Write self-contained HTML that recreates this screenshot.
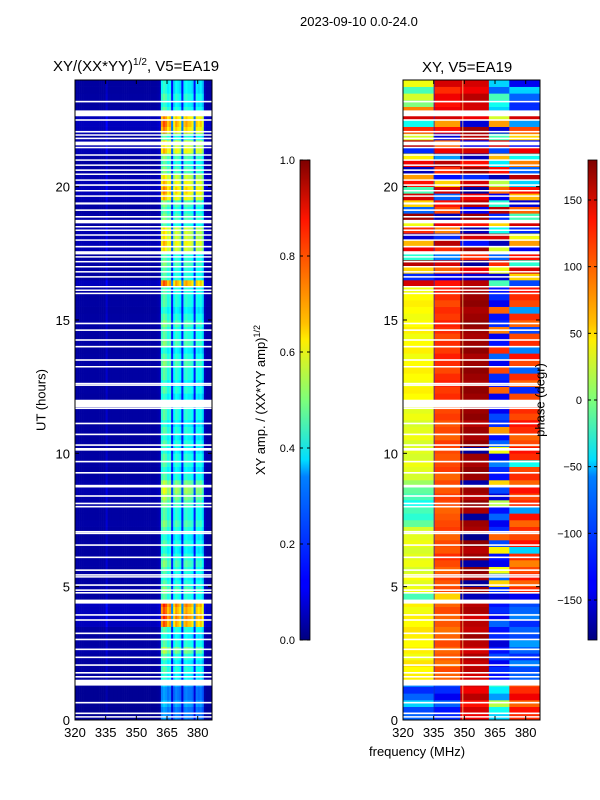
<!DOCTYPE html>
<html><head><meta charset="utf-8"><style>
body{margin:0;background:#fff;font-family:"Liberation Sans",sans-serif}
#root{position:relative;width:600px;height:800px;overflow:hidden}
.t{position:absolute;white-space:nowrap;color:#000}
</style></head><body>
<div id="root">
<svg id="svg" width="600" height="800" style="position:absolute;left:0;top:0">
<defs>
<linearGradient id="jet" x1="0" y1="1" x2="0" y2="0">
<stop offset="0" stop-color="#00007f"/><stop offset="0.11" stop-color="#0000ff"/><stop offset="0.125" stop-color="#0000ff"/>
<stop offset="0.34" stop-color="#0080ff"/><stop offset="0.375" stop-color="#00ddff"/><stop offset="0.5" stop-color="#7dff7a"/>
<stop offset="0.625" stop-color="#ffee00"/><stop offset="0.66" stop-color="#ffc000"/><stop offset="0.875" stop-color="#ff1500"/><stop offset="1" stop-color="#7f0000"/>
</linearGradient>
</defs>
<g id="leftCells"></g>
<g id="rightCells"></g>
<g id="gaps"></g>
<rect x="300" y="160" width="10" height="480" fill="url(#jet)" stroke="#000" stroke-width="0.8"/>
<rect x="588" y="160" width="9" height="480" fill="url(#jet)" stroke="#000" stroke-width="0.8"/>
<g id="axes"></g>
</svg>
<div class="t" style="left:300px;top:14px;font-size:13px">2023-09-10 0.0-24.0</div>
<div class="t" style="left:53px;top:57px;font-size:15px">XY/(XX*YY)<sup style="font-size:10px">1/2</sup>, V5=EA19</div>
<div class="t" style="left:422px;top:59px;font-size:15px">XY, V5=EA19</div>
<div class="t" style="left:41px;top:400px;font-size:13px;transform:translate(-50%,-50%) rotate(-90deg)">UT (hours)</div>
<div class="t" style="left:260px;top:400px;font-size:13px;transform:translate(-50%,-50%) rotate(-90deg)">XY amp. / (XX*YY amp)<sup style="font-size:9px">1/2</sup></div>
<div class="t" style="left:540px;top:400px;font-size:13px;transform:translate(-50%,-50%) rotate(-90deg)">phase (degr)</div>
<div class="t" style="left:369px;top:744px;font-size:13px">frequency (MHz)</div>
</div>
<script>
const xTicks=[320,335,350,365,380];
const yTicks=[0,5,10,15,20];
const ampTicks=[0.0,0.2,0.4,0.6,0.8,1.0];
const phaseTicks=[-150,-100,-50,0,50,100,150];
// amplitude column profile, 1 MHz bins 320..386
const ampProfile=[0.07,0.07,0.07,0.07,0.07,0.07,0.07,0.07,0.07,0.07,0.07,0.07,0.07,0.07,0.07,0.15,0.07,0.07,0.07,0.07,
0.07,0.07,0.07,0.07,0.07,0.07,0.07,0.07,0.07,0.07,0.07,0.07,0.07,0.07,0.07,0.07,0.07,0.07,0.07,0.07,0.08,0.1,
0.85,0.95,0.9,0.8,0.85,0.3,0.75,0.85,0.8,0.75,0.3,0.8,0.85,0.8,0.8,0.75,0.3,0.8,0.75,0.8,0.7,0.12,0.08,0.08,0.08];
// amplitude row level, 0.25 h bins
const ampRow=[0.3,0.3,0.35,0.3,0.3,0.35,0.45,0.5,0.45,0.5,0.6,0.5,0.45,0.5,0.85,0.9,0.85,0.9,0.5,0.55,
0.5,0.45,0.5,0.55,0.5,0.45,0.5,0.45,0.5,0.55,0.5,0.5,0.55,0.6,0.65,0.6,0.5,0.45,0.5,0.5,
0.45,0.5,0.45,0.5,0.45,0.5,0.5,0.45,0.45,0.5,0.45,0.5,0.5,0.55,0.5,0.45,0.55,0.5,0.5,0.55,
0.5,0.45,0.5,0.5,0.5,0.85,0.5,0.5,0.55,0.5,0.7,0.75,0.7,0.7,0.5,0.55,0.5,0.55,0.75,0.8,
0.75,0.7,0.55,0.5,0.55,0.75,0.7,0.5,0.8,0.85,0.8,0.5,0.45,0.5,0.45,0.45];
const phaseA=[-100,-110,-60,-100,-120,-90,
50,45,55,40,50,45,50,55,45,50,40,50,-20,
40,35,45,30,40,35,30,40,35,30,-10,-30,-20,-40,-20,-10,10,30,35,40,30,35,30,40,35,30,40,35,30,
45,50,40,45,50,45,40,50,45,40,50,45,40,45,50,45,40,
150,-120,60,160,-30,140,70,-150,120,40,170,-100,60,150,-20,130,80,-160,140,50,-120,160,30,120,-40,150,90,
0,30,-20,40];
const phaseB=[-120,-130,-100,-140,-120,-110,
100,110,95,105,100,110,100,95,105,100,110,100,60,
110,105,115,100,110,120,105,110,100,115,110,105,100,110,115,105,110,100,115,110,105,110,115,100,110,105,115,110,105,
120,115,125,120,110,120,125,115,120,110,120,125,115,120,110,120,125,
130,-140,100,150,-90,120,160,-120,90,140,-160,110,130,-100,150,60,-130,120,160,-80,140,100,-150,130,80,150,140,
130,140,120,150];
const phaseC=[140,150,130,160,140,150,
150,160,155,165,150,160,170,155,160,150,165,160,-160,
170,-170,165,175,-165,170,160,175,-175,165,170,-170,165,175,160,170,-165,170,175,165,170,-170,175,165,170,160,175,170,165,
170,175,165,170,175,170,165,175,170,165,170,175,170,165,175,170,165,
160,-150,140,-170,120,170,-130,150,-160,130,170,-140,160,140,-170,150,-120,170,130,-160,150,-140,160,170,-150,140,150,
150,160,140,150];
const phaseD1=[-60,-40,20,-80,-50,-30,
-130,-120,-140,-110,-130,-150,-120,-130,-100,-140,-120,-130,-150,
-120,60,-100,40,-140,-130,50,-110,100,-120,-140,-100,-130,20,-150,-110,60,-130,-120,-90,-140,40,-100,-130,80,-120,-110,-140,-130,
-140,100,-130,-120,110,-140,-100,120,-130,-140,90,-120,-130,100,-140,-120,-130,
-20,-150,40,120,-100,30,-160,150,-40,60,-120,160,-30,-140,100,20,-160,130,-50,70,-110,150,-20,-150,80,30,-60,
-40,-20,-100,-60];
const phaseD2=[120,130,100,140,120,110,
-100,-110,-90,-120,-100,-80,-110,-100,-120,-90,-100,-110,-140,
120,100,130,110,90,120,-60,130,110,120,100,130,-80,120,110,130,100,120,110,-40,120,130,110,100,120,130,110,120,100,
110,-120,100,120,-100,110,130,-90,120,110,-110,100,120,-80,110,120,130,
-110,60,150,-30,130,-140,80,40,-120,150,-20,100,-150,70,130,-60,160,-100,90,-40,140,-130,60,110,-80,150,-120,
-120,-100,-60,-140];
const gapHours=[23.19,22.75,22.5,22.06,21.94,21.81,21.62,21.47,21.19,21.0,20.81,20.62,20.47,20.25,20.06,19.85,19.65,19.37,19.12,18.87,18.69,18.5,18.37,18.19,18.0,17.75,17.52,17.37,17.19,17.0,16.81,16.62,16.25,16.12,16.0,14.87,14.62,14.25,14.0,13.5,13.25,12.62,12.56,11.87,11.69,11.12,10.71,10.31,10.15,9.69,9.27,8.77,8.4,8.12,8.0,7.06,7.0,6.56,6.1,5.62,5.44,5.37,5.06,4.87,4.77,4.44,3.94,3.75,3.25,3.02,2.65,2.35,2.06,1.77,1.62,1.4,0.65,0.25,0.12];
const gapDur=[0.06,0.22,0.06,0.06,0.05,0.06,0.14,0.05,0.05,0.05,0.05,0.06,0.05,0.05,0.06,0.05,0.05,0.08,0.06,0.06,0.13,0.05,0.05,0.05,0.05,0.06,0.12,0.05,0.05,0.05,0.05,0.05,0.05,0.05,0.05,0.06,0.06,0.06,0.06,0.06,0.05,0.05,0.05,0.28,0.06,0.06,0.06,0.06,0.1,0.06,0.06,0.1,0.06,0.06,0.06,0.06,0.05,0.06,0.06,0.06,0.06,0.05,0.06,0.06,0.06,0.15,0.06,0.06,0.06,0.06,0.06,0.06,0.06,0.06,0.06,0.22,0.06,0.06,0.05];

const NS='http://www.w3.org/2000/svg';
const F0=320,F1=387,PW=137,Y0=720,PPH=640/24;
const L={x:75},R={x:403};
function xs(p,f){return p.x+(f-F0)/(F1-F0)*PW;}
function ys(h){return Y0-h*PPH;}
function jet(v){v=Math.max(0,Math.min(1,v));const c=t=>Math.round(255*Math.max(0,Math.min(1,1.5-Math.abs(4*v-t))));return 'rgb('+c(3)+','+c(2)+','+c(1)+')';}
function mk(tag,a,parent){const e=document.createElementNS(NS,tag);for(const k in a)e.setAttribute(k,a[k]);parent.appendChild(e);return e;}
function phaseAt(r,f){if(f<335)return phaseA[r];if(f<348)return phaseB[r];if(f<362)return phaseC[r];if(f<372)return phaseD1[r];return phaseD2[r];}
const gl=document.getElementById('leftCells'),gr=document.getElementById('rightCells');
const nRow=ampRow.length,nCol=ampProfile.length,dh=24/nRow;
for(let r=0;r<nRow;r++){
 const yt=ys((r+1)*dh),hh=ys(r*dh)-yt;
 for(let c=0;c<nCol;c++){
  const f=F0+c;
  const e=mk('rect',{x:xs(L,f),y:yt,width:xs(L,f+1)-xs(L,f)+0.3,height:hh+0.3,fill:jet(ampProfile[c]*ampRow[r])},gl);
  
  
 }
 const segs=[[320,335],[335,348],[348,362],[362,372],[372,387]];
 segs.forEach(s=>{
  const e=mk('rect',{x:xs(R,s[0]),y:yt,width:xs(R,s[1])-xs(R,s[0])+0.3,height:hh+0.3,fill:jet((phaseAt(r,s[0])+180)/360)},gr);
  
  
 });
}
let vl=mk('rect',{x:xs(R,335),y:80,width:1,height:640,fill:'#1030c0',opacity:0.7},gr);


vl=mk('rect',{x:xs(R,349),y:80,width:1,height:640,fill:'#ffe080',opacity:0.7},gr);


const gg=document.getElementById('gaps');
gapHours.forEach((h,i)=>{
 [L,R].forEach(p=>{
  const e=mk('rect',{x:p.x,y:ys(h+gapDur[i]/2),width:PW,height:Math.max(1.5,gapDur[i]*PPH),fill:'#fff'},gg);
  
  
 });
});
const ax=document.getElementById('axes');
function txt(x,y,s,anchor,parent,name){const e=mk('text',{x:x,y:y,'font-size':13,'text-anchor':anchor,'font-family':'Liberation Sans, sans-serif'},parent);e.textContent=s;return e;}
[L,R].forEach((p,pi)=>{
 const fr=mk('rect',{x:p.x,y:80,width:PW,height:640,fill:'none',stroke:'#000','stroke-width':1},ax);
 
 
 xTicks.forEach(t=>{
  const x=xs(p,t);
  mk('line',{x1:x,x2:x,y1:720,y2:716,stroke:'#000'},ax);
  mk('line',{x1:x,x2:x,y1:80,y2:84,stroke:'#000'},ax);
  txt(x,737,String(t),'middle',ax,'x-tick-label');
 });
 yTicks.forEach(t=>{
  const y=ys(t);
  mk('line',{x1:p.x,x2:p.x+4,y1:y,y2:y,stroke:'#000'},ax);
  mk('line',{x1:p.x+PW,x2:p.x+PW-4,y1:y,y2:y,stroke:'#000'},ax);
  txt(p.x-5,y+5,String(t),'end',ax,'y-tick-label');
 });
});
ampTicks.forEach(t=>{
 const y=640-t*480;
 mk('line',{x1:300,x2:303,y1:y,y2:y,stroke:'#000'},ax);
 mk('line',{x1:307,x2:310,y1:y,y2:y,stroke:'#000'},ax);
 const e=txt(295,y+4,t.toFixed(1),'end',ax,'amp-colorbar-tick');e.setAttribute('font-size','11');
});
phaseTicks.forEach(t=>{
 const y=640-(t+180)/360*480;
 mk('line',{x1:588,x2:591,y1:y,y2:y,stroke:'#000'},ax);
 mk('line',{x1:594,x2:597,y1:y,y2:y,stroke:'#000'},ax);
 const e=txt(582,y+4,t<0?'\u2212'+(-t):String(t),'end',ax,'phase-colorbar-tick');e.setAttribute('font-size','11');
});
</script>
</body></html>
